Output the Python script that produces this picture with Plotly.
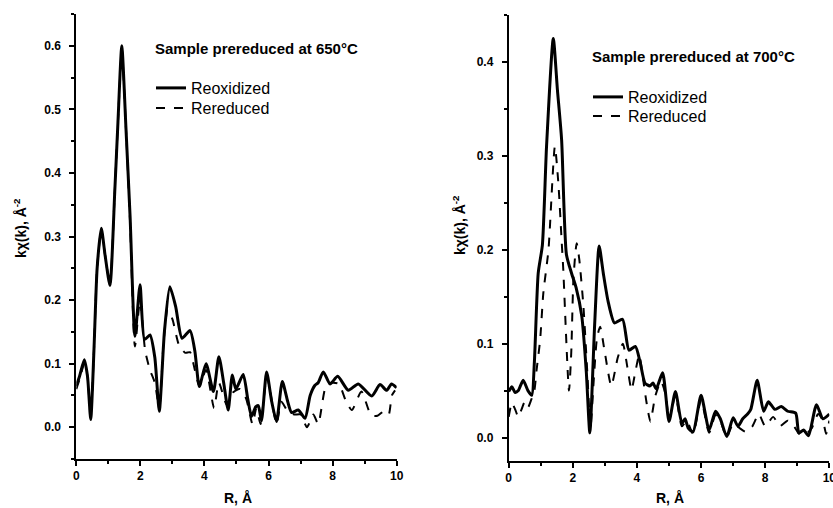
"""
EXAFS Fourier transforms, two samples side by side
"""
import plotly.graph_objects as go

# left panel - sample prereduced at 650 C
r_650_reox = [0, 0.1, 0.25, 0.35, 0.45, 0.55, 0.65, 0.78, 0.9, 1.05, 1.2, 1.3, 1.42, 1.55, 1.68,
              1.83, 1.99, 2.13, 2.3, 2.45, 2.59, 2.75, 2.92, 3.1, 3.3, 3.55, 3.7, 3.84, 4.05, 4.28,
              4.45, 4.6, 4.74, 4.87, 4.98, 5.21, 5.35, 5.47, 5.6, 5.68, 5.78, 5.94, 6.1, 6.25, 6.43,
              6.6, 6.72, 6.93, 7.14, 7.3, 7.45, 7.55, 7.71, 7.92, 8.16, 8.49, 8.8, 9.22, 9.48, 9.69,
              9.84, 10]
k_650_reox = [0.065, 0.08, 0.106, 0.08, 0.012, 0.12, 0.25, 0.313, 0.27, 0.223, 0.37, 0.48, 0.60, 0.47, 0.33,
              0.143, 0.224, 0.138, 0.145, 0.11, 0.025, 0.15, 0.221, 0.19, 0.14, 0.152, 0.12, 0.064, 0.10, 0.056,
              0.111, 0.07, 0.027, 0.082, 0.06, 0.083, 0.045, 0.017, 0.032, 0.034, 0.01, 0.087, 0.04, 0.009, 0.072,
              0.04, 0.023, 0.027, 0.014, 0.05, 0.066, 0.07, 0.087, 0.068, 0.080, 0.058, 0.068, 0.049, 0.067, 0.058,
              0.068, 0.062]

r_650_rered = [0, 0.1, 0.25, 0.35, 0.45, 0.55, 0.65, 0.78, 0.9, 1.05, 1.2, 1.3, 1.42, 1.55, 1.68,
               1.83, 1.99, 2.15, 2.3, 2.45, 2.59, 2.72, 2.85, 3.0, 3.2, 3.4, 3.55, 3.7, 3.84, 4.05,
               4.3, 4.45, 4.7, 4.9, 5.1, 5.3, 5.5, 5.62, 5.75, 5.95, 6.25, 6.4, 6.6, 6.8, 7.0,
               7.2, 7.4, 7.55, 7.8, 8.0, 8.2, 8.4, 8.6, 8.9, 9.2, 9.4, 9.6, 9.75, 9.85, 9.95]
k_650_rered = [0.06, 0.075, 0.1, 0.08, 0.015, 0.12, 0.25, 0.31, 0.27, 0.225, 0.37, 0.48, 0.59, 0.47, 0.32,
               0.127, 0.20, 0.12, 0.09, 0.07, 0.03, 0.13, 0.185, 0.17, 0.13, 0.117, 0.118, 0.09, 0.065, 0.09,
               0.03, 0.07, 0.035, 0.055, 0.06, 0.045, 0.005, 0.03, 0.005, 0.08, 0.005, 0.04, 0.025, 0.02, 0.02,
               0.0, 0.02, 0.005, 0.066, 0.07, 0.068, 0.043, 0.027, 0.056, 0.019, 0.018, 0.025, 0.02, 0.05, 0.058]

# right panel - sample prereduced at 700 C
r_700_reox = [0, 0.1, 0.2, 0.3, 0.45, 0.6, 0.72, 0.8, 0.92, 1.05, 1.18, 1.39, 1.52, 1.65, 1.8,
              1.96, 2.1, 2.28, 2.42, 2.53, 2.68, 2.82, 2.95, 3.1, 3.3, 3.55, 3.75, 3.95, 4.1, 4.25,
              4.4, 4.5, 4.6, 4.8, 5.0, 5.2, 5.4, 5.5, 5.6, 5.75, 6.0, 6.25, 6.45, 6.6, 6.8,
              7.0, 7.15, 7.3, 7.45, 7.55, 7.75, 7.95, 8.1, 8.3, 8.5, 8.7, 8.95, 9.05, 9.2, 9.35,
              9.6, 9.8, 10]
k_700_reox = [0.049, 0.054, 0.048, 0.05, 0.061, 0.05, 0.045, 0.08, 0.175, 0.205, 0.31, 0.425, 0.37, 0.317, 0.195,
              0.175, 0.16, 0.129, 0.07, 0.005, 0.12, 0.204, 0.175, 0.145, 0.122, 0.126, 0.093, 0.097, 0.08, 0.058,
              0.055, 0.058, 0.052, 0.069, 0.017, 0.049, 0.015, 0.02, 0.01, 0.006, 0.045, 0.008, 0.028, 0.02, 0.001,
              0.021, 0.012, 0.02, 0.025, 0.03, 0.061, 0.028, 0.038, 0.03, 0.033, 0.028, 0.026, 0.005, 0.008, 0.002,
              0.035, 0.02, 0.025]

r_700_rered = [0, 0.1, 0.2, 0.3, 0.4, 0.5, 0.6, 0.7, 0.8, 0.87, 0.98, 1.08, 1.24, 1.44, 1.55,
               1.65, 1.7, 1.88, 1.95, 2.02, 2.12, 2.2, 2.33, 2.45, 2.55, 2.65, 2.75, 2.85, 3.0, 3.2,
               3.4, 3.56, 3.7, 3.83, 3.95, 4.07, 4.2, 4.3, 4.42, 4.57, 4.75, 4.9, 5.0, 5.2, 5.4,
               5.55, 5.75, 6.0, 6.25, 6.45, 6.6, 6.8, 7.0, 7.2, 7.4, 7.6, 7.8, 8.0, 8.25, 8.45,
               8.7, 8.9, 9.05, 9.25, 9.45, 9.65, 9.8, 9.9, 10]
k_700_rered = [0.022, 0.037, 0.03, 0.022, 0.03, 0.038, 0.032, 0.04, 0.05, 0.072, 0.104, 0.154, 0.2, 0.31, 0.27,
               0.21, 0.18, 0.05, 0.09, 0.17, 0.207, 0.19, 0.14, 0.07, 0.01, 0.06, 0.105, 0.118, 0.09, 0.055,
               0.085, 0.1, 0.075, 0.051, 0.07, 0.088, 0.06, 0.037, 0.017, 0.044, 0.06, 0.045, 0.018, 0.045, 0.012,
               0.018, 0.004, 0.04, 0.005, 0.024, 0.018, 0.0, 0.015, 0.01, 0.006, 0.012, 0.025, 0.012, 0.022, 0.012,
               0.018, 0.012, 0.004, 0.003, 0.01, 0.025, 0.018, 0.004, 0.018]

FONT = "Liberation Sans"

fig = go.Figure()

fig.add_trace(go.Scatter(x=r_650_reox, y=k_650_reox, mode="lines", name="Reoxidized",
                         line=dict(color="black", width=3, shape="spline", smoothing=0.6),
                         xaxis="x", yaxis="y", legend="legend"))
fig.add_trace(go.Scatter(x=r_650_rered, y=k_650_rered, mode="lines", name="Rereduced",
                         line=dict(color="black", width=2, dash="dash", shape="spline", smoothing=0.6),
                         xaxis="x", yaxis="y", legend="legend2"))
fig.add_trace(go.Scatter(x=r_700_reox, y=k_700_reox, mode="lines", name="Reoxidized",
                         line=dict(color="black", width=3, shape="spline", smoothing=0.6),
                         xaxis="x2", yaxis="y2", legend="legend3"))
fig.add_trace(go.Scatter(x=r_700_rered, y=k_700_rered, mode="lines", name="Rereduced",
                         line=dict(color="black", width=2, dash="dash", shape="spline", smoothing=0.6),
                         xaxis="x2", yaxis="y2", legend="legend4"))

tickfont = dict(family=FONT, size=12, color="black", weight="bold")
xcommon = dict(range=[0, 10], dtick=2, showline=True, linewidth=2, linecolor="black",
               ticks="outside", ticklen=5, tickwidth=2, tickcolor="black", ticklabeloverflow="allow",
               minor=dict(ticks="outside", ticklen=3, dtick=1, tickcolor="black"),
               showgrid=False, zeroline=False, tickfont=tickfont, automargin=False)
ycommon = dict(dtick=0.1, tickformat=".1f", showline=True, linewidth=2, linecolor="black",
               ticks="outside", ticklen=5, tickwidth=2, tickcolor="black", ticklabelstandoff=6,
               minor=dict(ticks="outside", ticklen=3, dtick=0.05, tickcolor="black"),
               showgrid=False, zeroline=False, tickfont=tickfont, automargin=False)

legfont = dict(family=FONT, size=16, color="black")


def leg(px, py):
    # one legend box per entry, placed by its left/middle point in pixels
    return dict(x=px / 833, y=1 - py / 508, xanchor="left", yanchor="middle", font=legfont,
                bgcolor="rgba(0,0,0,0)", itemwidth=30)


fig.update_layout(
    width=833, height=508,
    margin=dict(l=0, r=0, t=0, b=0),
    paper_bgcolor="white", plot_bgcolor="white",
    xaxis=dict(xcommon, domain=[0.0916, 0.4762], anchor="y"),
    yaxis=dict(ycommon, domain=[0.0965, 0.9724], range=[-0.05, 0.65], anchor="x"),
    xaxis2=dict(xcommon, domain=[0.6107, 0.9956], anchor="y2"),
    yaxis2=dict(ycommon, domain=[0.0925, 0.9705], range=[-0.025, 0.45], anchor="x2"),
    legend=leg(151, 88),
    legend2=leg(151, 108),
    legend3=leg(588, 97),
    legend4=leg(588, 116),
    showlegend=True,
)

titlefont = dict(family=FONT, size=15, color="black", weight="bold")
axfont = dict(family=FONT, size=14, color="black", weight="bold")
fig.add_annotation(text="Sample prereduced at 650°C", xref="paper", yref="paper",
                   x=153 / 833, y=1 - 48 / 508, xanchor="left", yanchor="middle",
                   showarrow=False, font=titlefont)
fig.add_annotation(text="Sample prereduced at 700°C", xref="paper", yref="paper",
                   x=590 / 833, y=1 - 56 / 508, xanchor="left", yanchor="middle",
                   showarrow=False, font=titlefont)
fig.add_annotation(text="kχ(k), Å<sup>-2</sup>", xref="paper", yref="paper",
                   x=20 / 833, y=1 - 228 / 508, xanchor="center", yanchor="middle",
                   textangle=-90, showarrow=False, font=axfont)
fig.add_annotation(text="kχ(k), Å<sup>-2</sup>", xref="paper", yref="paper",
                   x=459 / 833, y=1 - 225 / 508, xanchor="center", yanchor="middle",
                   textangle=-90, showarrow=False, font=axfont)
fig.add_annotation(text="R, Å", xref="paper", yref="paper",
                   x=238 / 833, y=1 - 498 / 508, xanchor="center", yanchor="middle",
                   showarrow=False, font=axfont)
fig.add_annotation(text="R, Å", xref="paper", yref="paper",
                   x=670 / 833, y=1 - 498 / 508, xanchor="center", yanchor="middle",
                   showarrow=False, font=axfont)

# page body has a default margin, drop it so the figure sits at the window corner
fig.write_html("out.html", config={"displayModeBar": False},
               post_script="document.body.style.margin='0';")
